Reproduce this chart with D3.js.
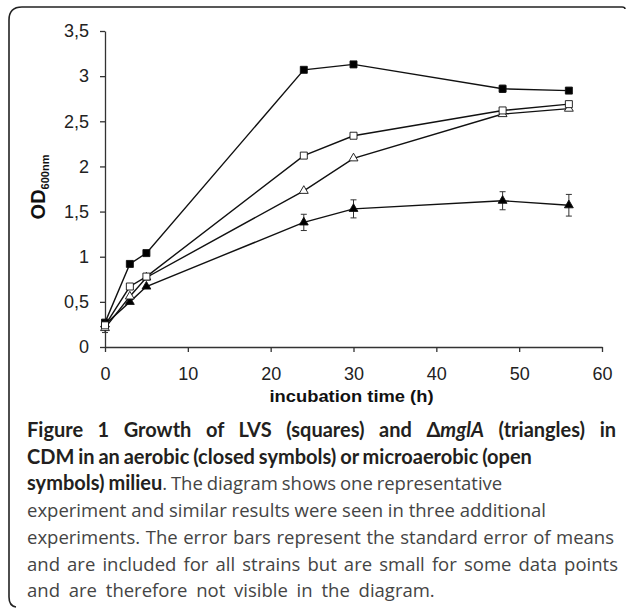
<!DOCTYPE html>
<html>
<head>
<meta charset="utf-8">
<script src="https://d3js.org/d3.v7.min.js"></script>
<style>
  body { margin: 0; background: #fff; }
  svg { display: block; }
</style>
</head>
<body>
<div id="chart-container"></div>
<script>
//Data

const times = [0, 3, 5, 24, 30, 48, 56];
const lvsAerobic = [0.27, 0.92, 1.04, 3.07, 3.13, 2.86, 2.84];
const lvsMicro = [0.24, 0.67, 0.78, 2.12, 2.34, 2.62, 2.69];
const mglAerobic = [0.25, 0.50, 0.67, 1.38, 1.53, 1.62, 1.57];
const mglMicro = [0.21, 0.56, 0.77, 1.73, 2.09, 2.58, 2.64];

const lvsAerobicErr = [0, 0, 0, 0.02, 0.03, 0.04, 0.02];
const lvsMicroErr = [0.02, 0, 0, 0, 0, 0.02, 0.03];
const mglAerobicErr = [0, 0, 0, 0.09, 0.10, 0.10, 0.12];
const mglMicroErr = [0.05, 0, 0, 0, 0, 0.02, 0.02];

const xTicks = [0, 10, 20, 30, 40, 50, 60];
const yTicks = [0, 0.5, 1, 1.5, 2, 2.5, 3, 3.5];

const captionLines = [
  [{ t: "Figure 1 Growth of LVS (squares) and Δ", b: true }, { t: "mglA", b: true, i: true }, { t: " (triangles) in", b: true }],
  [{ t: "CDM in an aerobic (closed symbols) or microaerobic (open", b: true }],
  [{ t: "symbols) milieu", b: true }, { t: ". The diagram shows one representative" }],
  [{ t: "experiment and similar results were seen in three additional" }],
  [{ t: "experiments. The error bars represent the standard error of means" }],
  [{ t: "and are included for all strains but are small for some data points" }],
  [{ t: "and are therefore not visible in the diagram." }]
];
const captionWidths = [589, 497, 463, 519, 587, 591, 435];

//Chart dimensions

const W = 627, H = 608;
const margin = { top: 31, left: 105 };
const width = 497;
const height = 316;

const xScale = d3.scaleLinear().domain([0, 60]).range([0, width]);
const yScale = d3.scaleLinear().domain([0, 3.5]).range([height, 0]);

const svg = d3.select("#chart-container")
  .append("svg")
  .attr("width", W)
  .attr("height", H);

svg.append("rect").attr("width", W).attr("height", H).attr("fill", "#fff");

//Frame around figure (open on right and bottom, as in the scan)

svg.append("path")
  .attr("d", "M9,597 L9,20 Q9,7 22,7 L622,7 Q625,7 625,9 M9,597 Q9,606 16,607")
  .attr("fill", "none")
  .attr("stroke", "#222")
  .attr("stroke-width", 1.6);

const g = svg.append("g")
  .attr("transform", `translate(${margin.left},${margin.top})`);

//Axes

const xAxis = g.append("g")
  .attr("transform", `translate(0,${height})`)
  .call(d3.axisBottom(xScale).tickValues(xTicks).tickSize(5).tickPadding(15).tickSizeOuter(0));

const yAxis = g.append("g")
  .call(d3.axisLeft(yScale).tickValues(yTicks).tickSize(5).tickPadding(11).tickSizeOuter(0)
    .tickFormat((d) => String(d).replace(".", ",")));

[xAxis, yAxis].forEach((a) => {
  a.select(".domain").attr("stroke", "#333").attr("stroke-width", 1.3);
  a.selectAll(".tick line").attr("stroke", "#333").attr("stroke-width", 1.3);
  a.selectAll(".tick text")
    .attr("fill", "#222")
    .style("font-family", "Liberation Sans, Arial, sans-serif")
    .style("font-size", "18px");
});

//Axis titles

g.append("text")
  .attr("x", width / 2 - 2)
  .attr("y", height + 55)
  .attr("text-anchor", "middle")
  .attr("textLength", 164)
  .attr("lengthAdjust", "spacingAndGlyphs")
  .style("font-family", "Liberation Sans, Arial, sans-serif")
  .style("font-weight", "bold")
  .style("font-size", "17px")
  .attr("fill", "#111")
  .text("incubation time (h)");

const yTitle = svg.append("text")
  .attr("transform", "translate(45,187) rotate(-90)")
  .attr("text-anchor", "middle")
  .style("font-family", "Liberation Sans, Arial, sans-serif")
  .style("font-weight", "bold")
  .attr("fill", "#111");
yTitle.append("tspan").style("font-size", "20px").text("OD");
yTitle.append("tspan").style("font-size", "11px").attr("dy", 4).text("600nm");

//Series

const series = [
  { vals: lvsAerobic, err: lvsAerobicErr, shape: "square", fill: "#000" },
  { vals: mglAerobic, err: mglAerobicErr, shape: "triangle", fill: "#000" },
  { vals: mglMicro, err: mglMicroErr, shape: "triangle", fill: "#fff" },
  { vals: lvsMicro, err: lvsMicroErr, shape: "square", fill: "#fff" }
];

const line = d3.line()
  .x((d) => xScale(d.t))
  .y((d) => yScale(d.v));

series.forEach((s) => {
  s.points = times.map((t, i) => ({ t: t, v: s.vals[i], e: s.err[i] }));
});

//Error bars

series.forEach((s) => {
  const eb = g.append("g").attr("stroke", "#333").attr("stroke-width", 1);
  s.points.filter((d) => d.e > 0).forEach((d) => {
    const x = xScale(d.t);
    const y1 = yScale(d.v - d.e), y2 = yScale(d.v + d.e);
    eb.append("line").attr("x1", x).attr("x2", x).attr("y1", y1).attr("y2", y2);
    eb.append("line").attr("x1", x - 3).attr("x2", x + 3).attr("y1", y1).attr("y2", y1);
    eb.append("line").attr("x1", x - 3).attr("x2", x + 3).attr("y1", y2).attr("y2", y2);
  });
});

//Lines

series.forEach((s) => {
  g.append("path")
    .datum(s.points)
    .attr("fill", "none")
    .attr("stroke", "#111")
    .attr("stroke-width", 1.4)
    .attr("d", line);
});

//Markers

const sq = d3.symbol().type(d3.symbolSquare).size(49);
const tri = d3.symbol().type(d3.symbolTriangle).size(34);

series.forEach((s) => {
  g.selectAll(null)
    .data(s.points)
    .join("path")
    .attr("transform", (d) => `translate(${xScale(d.t)},${yScale(d.v)})`)
    .attr("d", s.shape === "square" ? sq : tri)
    .attr("fill", s.fill)
    .attr("stroke", "#111")
    .attr("stroke-width", 0.9);
});

//Caption - first line is justified, the rest only nudged toward measured widths

const lineH = 26.7;
captionLines.forEach((parts, li) => {
  const txt = svg.append("text")
    .attr("x", 27)
    .attr("y", 437 + li * lineH);
  parts.forEach((p) => {
    txt.append("tspan")
      .style("font-family", p.b ? "Lato, sans-serif" : "Open Sans, sans-serif")
      .style("font-weight", p.b ? "bold" : "normal")
      .style("font-style", p.i ? "italic" : "normal")
      .style("font-size", p.b ? "20px" : "18.5px")
      .attr("fill", p.b ? "#231f20" : "#444")
      .text(p.t);
  });
  const natural = txt.node().getComputedTextLength();
  const gaps = parts.map((p) => p.t).join("").split(" ").length - 1;
  let ws = (captionWidths[li] - natural) / gaps;
  if (li > 0) ws = Math.max(-1, Math.min(ws, 4));
  txt.style("word-spacing", ws + "px");
});
</script>
</body>
</html>
